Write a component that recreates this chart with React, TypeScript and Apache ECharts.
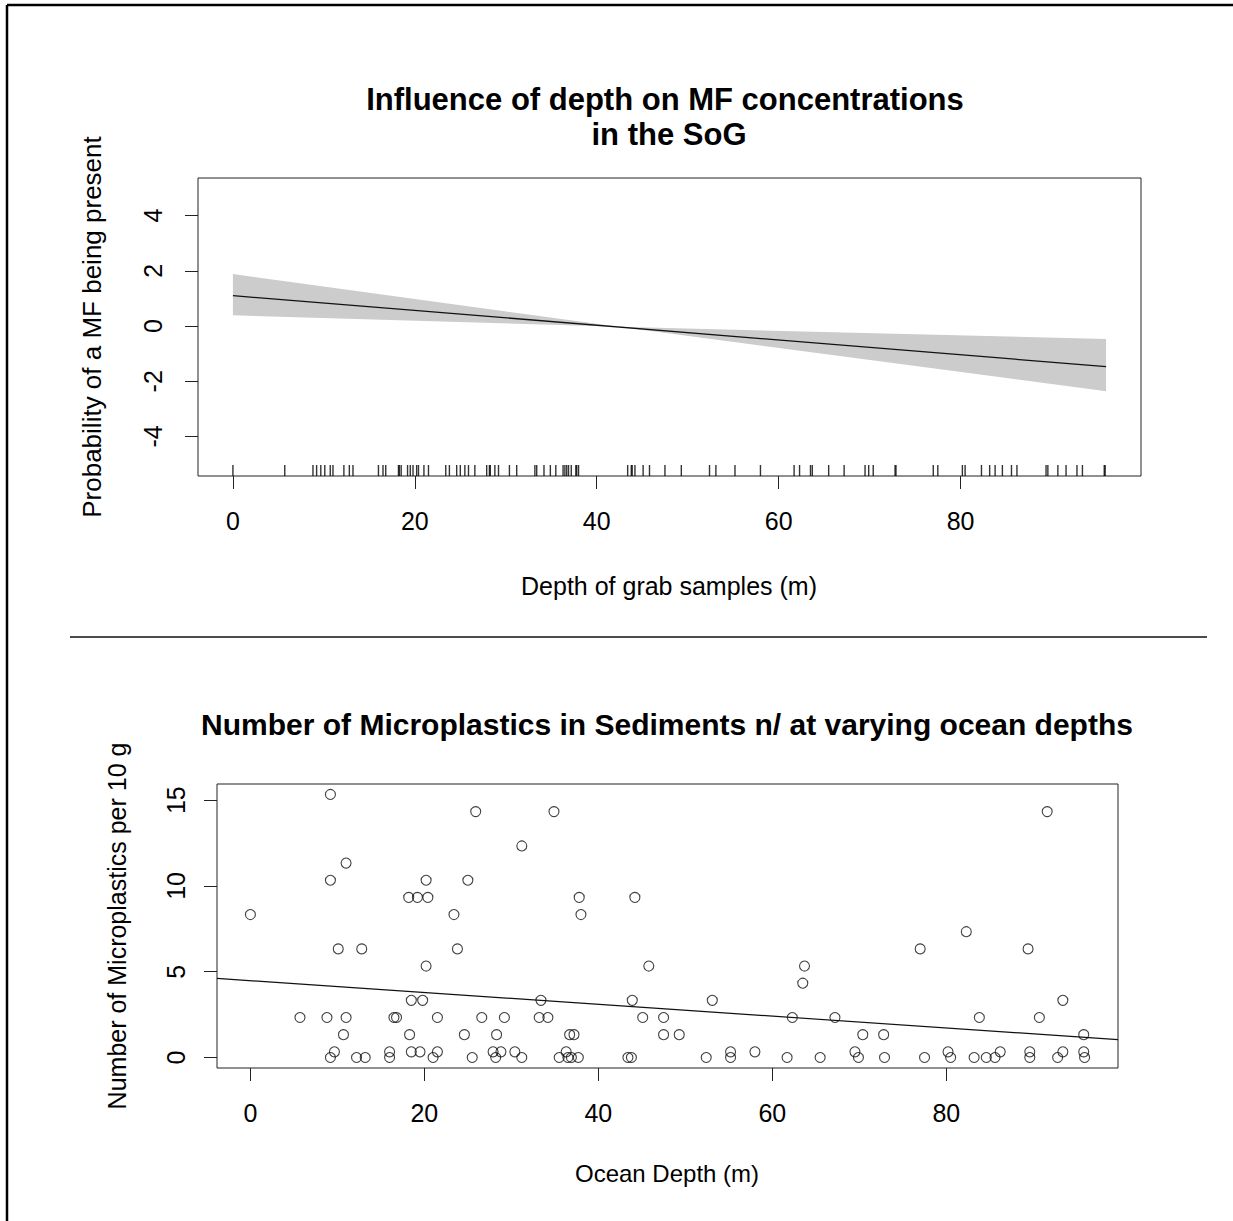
import React, { useEffect, useRef } from "react";
import * as echarts from "echarts";

// ---------- data ----------
// Bottom panel: ocean depth (m) vs number of microplastics per 10 g
const depths = [
  9.2, 25.9, 11.0, 9.2, 20.2, 25.0, 18.2, 19.2, 20.4, 0, 23.4, 10.1, 12.8, 23.8, 20.2, 18.5, 19.8, 5.7, 8.8, 11.0,
  16.5, 16.8, 21.5, 26.6, 29.2, 10.7, 18.3, 24.6, 28.3, 9.66, 9.2, 12.2, 13.2, 16.0, 16.0, 18.5, 19.5, 21.5, 21.0, 25.5,
  27.9, 28.8, 28.2, 30.4,
  34.9, 31.2, 37.8, 44.2, 38.0, 45.8, 63.7, 63.5, 33.4, 43.9, 53.1, 33.2, 34.2, 45.1, 47.5, 62.3, 36.7, 37.2, 47.5, 49.3,
  31.2, 35.5, 36.3, 36.5, 36.9, 37.7, 43.4, 43.8, 52.4, 55.2, 55.2, 58.0, 61.7, 65.5,
  91.6, 82.3, 77.0, 89.4, 93.4, 67.2, 83.8, 90.7, 70.4, 72.8, 95.8, 69.5, 69.9, 72.9, 77.5, 80.2, 80.5, 83.2, 84.6, 85.6,
  86.2, 89.6, 89.6, 92.8, 93.4, 95.8, 95.9,
];
const counts = [
  15.33, 14.33, 11.33, 10.33, 10.33, 10.33, 9.33, 9.33, 9.33, 8.33, 8.33, 6.33, 6.33, 6.33, 5.33, 3.33, 3.33, 2.33, 2.33, 2.33,
  2.33, 2.33, 2.33, 2.33, 2.33, 1.33, 1.33, 1.33, 1.33, 0.33, 0, 0, 0, 0.33, 0, 0.33, 0.33, 0.33, 0, 0,
  0.33, 0.33, 0, 0.33,
  14.33, 12.33, 9.33, 9.33, 8.33, 5.33, 5.33, 4.33, 3.33, 3.33, 3.33, 2.33, 2.33, 2.33, 2.33, 2.33, 1.33, 1.33, 1.33, 1.33,
  0, 0, 0.33, 0, 0, 0, 0, 0, 0, 0.33, 0, 0.33, 0, 0,
  14.33, 7.33, 6.33, 6.33, 3.33, 2.33, 2.33, 2.33, 1.33, 1.33, 1.33, 0.33, 0, 0, 0, 0.33, 0, 0, 0, 0,
  0.33, 0.33, 0, 0, 0.33, 0.33, 0,
];
// Bottom panel fitted line (end points across the plot region)
const trendX = [-3.84, 99.74];
const trendY = [4.61, 1.04];

// Top panel: fitted smooth term and its confidence band
const fitX = [0, 96];
const fitY = [1.1, -1.47];
const bandX = [0, 42.4, 96];
const bandUpper = [1.88, -0.03, -0.47];
const bandLower = [0.39, -0.03, -2.36];

// Tick values
const topXTicks = [0, 20, 40, 60, 80];
const topYTicks = [-4, -2, 0, 2, 4];
const botXTicks = [0, 20, 40, 60, 80];
const botYTicks = [0, 5, 10, 15];

// Texts
const topTitle1 = "Influence of depth on MF concentrations";
const topTitle2 = "in the SoG";
const topXName = "Depth of grab samples (m)";
const topYName = "Probability of a MF being present";
const botTitle = "Number of Microplastics in Sediments n/ at varying ocean depths";
const botXName = "Ocean Depth (m)";
const botYName = "Number of Microplastics per 10 g";

const FONT = '"Liberation Sans", Arial, Helvetica, sans-serif';

export default function App() {
  const ref = useRef<HTMLDivElement>(null);

  useEffect(() => {
    if (!ref.current) return;
    const chart = echarts.init(ref.current, null, { renderer: "svg" });

    const rugX = Array.from(new Set(depths)).sort((a, b) => a - b);
    const topYMin = -5.43;

    const axisTextStyle = { fontSize: 25, fontFamily: FONT, color: "#000" };
    const tickStyle = { color: "#222", width: 1 };

    const mkText = (text: string, x: number, y: number, size: number, bold: boolean, rot = 0) => ({
      type: "text",
      x,
      y,
      rotation: rot,
      style: {
        text,
        fontSize: size,
        fontWeight: bold ? "bold" : "normal",
        fontFamily: FONT,
        fill: "#000",
        align: "center",
        verticalAlign: "middle",
      },
    });

    chart.setOption({
      animation: false,
      backgroundColor: "#fff",
      grid: [
        { left: 198, top: 178, width: 943, height: 298, show: true, borderColor: "#222", borderWidth: 1, backgroundColor: "transparent" },
        { left: 217, top: 784, width: 901, height: 284, show: true, borderColor: "#222", borderWidth: 1, backgroundColor: "transparent" },
      ],
      xAxis: [
        {
          gridIndex: 0, type: "value", min: -3.84, max: 99.84, position: "bottom",
          axisLine: { show: false, onZero: false }, splitLine: { show: false },
          axisTick: { show: true, customValues: topXTicks, length: 13, lineStyle: tickStyle },
          axisLabel: { customValues: topXTicks, margin: 32, ...axisTextStyle },
        },
        {
          gridIndex: 1, type: "value", min: -3.84, max: 99.74, position: "bottom",
          axisLine: { show: false, onZero: false }, splitLine: { show: false },
          axisTick: { show: true, customValues: botXTicks, length: 13, lineStyle: tickStyle },
          axisLabel: { customValues: botXTicks, margin: 32, ...axisTextStyle },
        },
      ],
      yAxis: [
        {
          gridIndex: 0, type: "value", min: topYMin, max: 5.36, position: "left",
          axisLine: { show: false, onZero: false }, splitLine: { show: false },
          axisTick: { show: true, customValues: topYTicks, length: 13, lineStyle: tickStyle },
          axisLabel: { customValues: topYTicks, rotate: 90, margin: 33, ...axisTextStyle },
        },
        {
          gridIndex: 1, type: "value", min: -0.613, max: 15.94, position: "left",
          axisLine: { show: false, onZero: false }, splitLine: { show: false },
          axisTick: { show: true, customValues: botYTicks, length: 13, lineStyle: tickStyle },
          axisLabel: { customValues: botYTicks, rotate: 90, margin: 29, ...axisTextStyle },
        },
      ],
      series: [
        {
          type: "custom",
          xAxisIndex: 0,
          yAxisIndex: 0,
          clip: true,
          data: bandX.map((x, i) => [x, bandUpper[i], bandLower[i]]),
          encode: { x: 0, y: [1, 2] },
          renderItem: (params: any, api: any) => {
            if (params.dataIndex !== 0) return null;
            const pts: number[][] = [];
            for (let i = 0; i < bandX.length; i++) pts.push(api.coord([bandX[i], bandUpper[i]]));
            for (let i = bandX.length - 1; i >= 0; i--) pts.push(api.coord([bandX[i], bandLower[i]]));
            return { type: "polygon", shape: { points: pts }, style: { fill: "#cccccc", stroke: "none" } };
          },
          z: 1,
        },
        {
          type: "line",
          xAxisIndex: 0,
          yAxisIndex: 0,
          data: fitX.map((x, i) => [x, fitY[i]]),
          showSymbol: false,
          lineStyle: { color: "#111", width: 1.3 },
          z: 3,
        },
        {
          type: "scatter",
          xAxisIndex: 0,
          yAxisIndex: 0,
          data: rugX.map((x) => [x, topYMin]),
          symbol: "rect",
          symbolSize: [1.4, 11],
          symbolOffset: [0, -5.5],
          itemStyle: { color: "#000" },
          z: 4,
        },
        {
          type: "scatter",
          xAxisIndex: 1,
          yAxisIndex: 1,
          data: depths.map((x, i) => [x, counts[i]]),
          symbol: "circle",
          symbolSize: 10,
          itemStyle: { color: "rgba(255,255,255,0)", borderColor: "#111", borderWidth: 1.1 },
          z: 3,
        },
        {
          type: "line",
          xAxisIndex: 1,
          yAxisIndex: 1,
          data: trendX.map((x, i) => [x, trendY[i]]),
          showSymbol: false,
          lineStyle: { color: "#111", width: 1.2 },
          z: 2,
        },
      ],
      graphic: [
        { type: "line", shape: { x1: 7, y1: 5, x2: 1233, y2: 5 }, style: { stroke: "#000", lineWidth: 2.5 } },
        { type: "line", shape: { x1: 7, y1: 5, x2: 7, y2: 1221 }, style: { stroke: "#000", lineWidth: 2.5 } },
        { type: "line", shape: { x1: 70, y1: 637, x2: 1207, y2: 637 }, style: { stroke: "#111", lineWidth: 1.5 } },
        mkText(topTitle1, 665, 99, 31, true),
        mkText(topTitle2, 669, 134, 31, true),
        mkText(topXName, 669, 586, 25, false),
        mkText(topYName, 92, 327, 26, false, Math.PI / 2),
        mkText(botTitle, 667, 724, 30, true),
        mkText(botXName, 667, 1173, 24, false),
        mkText(botYName, 117, 926, 25, false, Math.PI / 2),
      ],
    });

    return () => chart.dispose();
  }, []);

  return (
    <div
      ref={ref}
      style={{ position: "absolute", left: 0, top: 0, width: 1233, height: 1221, background: "#fff" }}
    />
  );
}
